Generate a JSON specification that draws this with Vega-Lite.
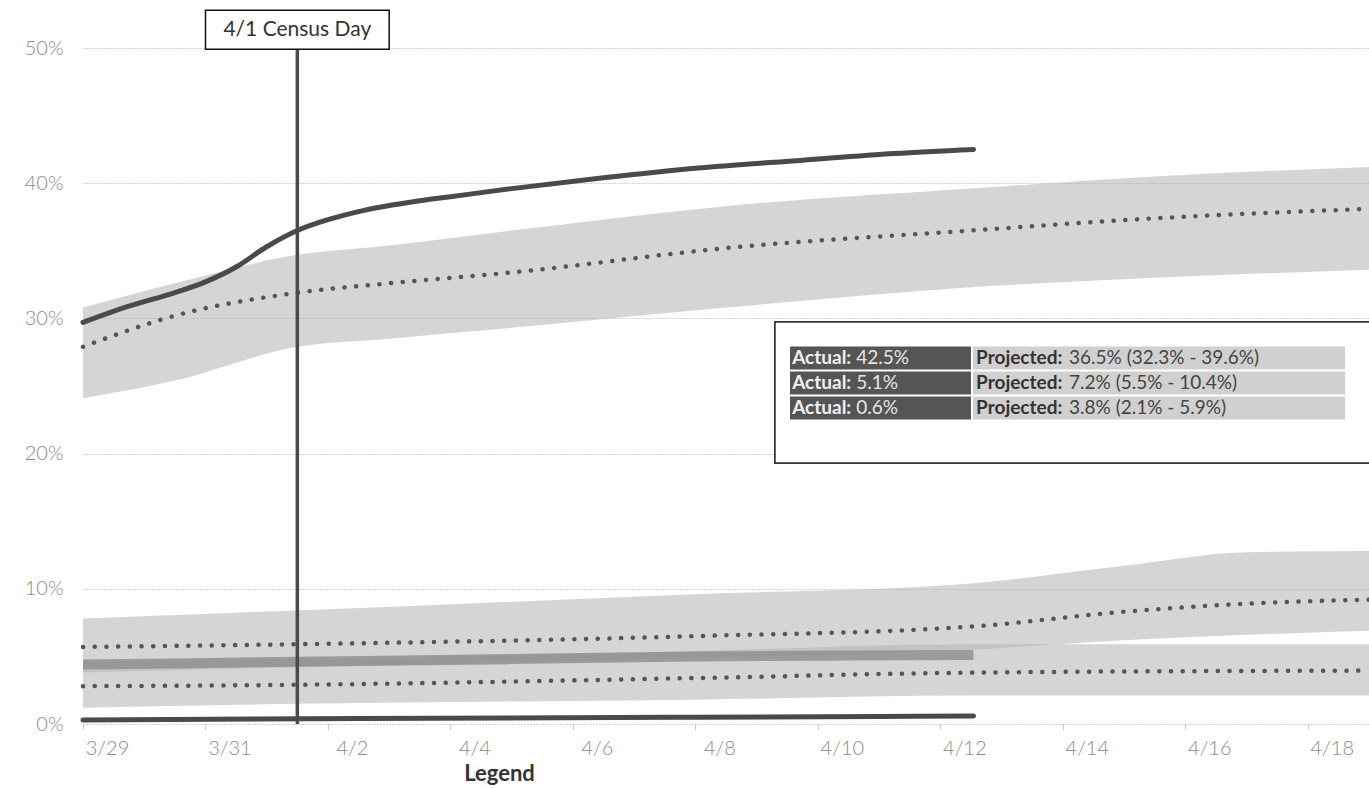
{
  "$schema": "https://vega.github.io/schema/vega-lite/v6.json",
  "width": 1286,
  "height": 676,
  "autosize": "none",
  "padding": {"left": 83, "top": 48, "right": 0, "bottom": 64},
  "background": "white",
  "config": {"view": {"stroke": null}, "font": "Lato"},
  "datasets": {
    "bands": [
      {"t": "2020-03-29T00:00Z", "g": "1", "lo": 24.1, "mid": 27.9, "hi": 30.8},
      {"t": "2020-03-30T12:00Z", "g": "1", "lo": 25.4, "mid": 30.2, "hi": 32.6},
      {"t": "2020-04-01T12:00Z", "g": "1", "lo": 27.9, "mid": 31.9, "hi": 34.7},
      {"t": "2020-04-03T00:00Z", "g": "1", "lo": 28.5, "mid": 32.6, "hi": 35.4},
      {"t": "2020-04-05T00:00Z", "g": "1", "lo": 29.3, "mid": 33.4, "hi": 36.5},
      {"t": "2020-04-08T12:00Z", "g": "1", "lo": 30.8, "mid": 35.2, "hi": 38.3},
      {"t": "2020-04-12T12:00Z", "g": "1", "lo": 32.3, "mid": 36.5, "hi": 39.6},
      {"t": "2020-04-15T12:00Z", "g": "1", "lo": 33.0, "mid": 37.4, "hi": 40.5},
      {"t": "2020-04-19T00:00Z", "g": "1", "lo": 33.6, "mid": 38.1, "hi": 41.2},
      {"t": "2020-03-29T00:00Z", "g": "2", "lo": 3.8, "mid": 5.7, "hi": 7.8},
      {"t": "2020-04-01T12:00Z", "g": "2", "lo": 4.2, "mid": 5.9, "hi": 8.4},
      {"t": "2020-04-08T00:00Z", "g": "2", "lo": 4.9, "mid": 6.5, "hi": 9.6},
      {"t": "2020-04-12T12:00Z", "g": "2", "lo": 5.5, "mid": 7.2, "hi": 10.4},
      {"t": "2020-04-15T00:00Z", "g": "2", "lo": 6.2, "mid": 8.3, "hi": 11.7},
      {"t": "2020-04-17T00:00Z", "g": "2", "lo": 6.6, "mid": 8.9, "hi": 12.7},
      {"t": "2020-04-19T00:00Z", "g": "2", "lo": 6.9, "mid": 9.2, "hi": 12.8},
      {"t": "2020-03-29T00:00Z", "g": "3", "lo": 1.2, "mid": 2.8, "hi": 4.6},
      {"t": "2020-04-01T12:00Z", "g": "3", "lo": 1.5, "mid": 2.9, "hi": 4.8},
      {"t": "2020-04-08T00:00Z", "g": "3", "lo": 1.8, "mid": 3.4, "hi": 5.4},
      {"t": "2020-04-12T12:00Z", "g": "3", "lo": 2.1, "mid": 3.8, "hi": 5.9},
      {"t": "2020-04-19T00:00Z", "g": "3", "lo": 2.1, "mid": 3.95, "hi": 5.9}
    ],
    "actual": [
      {"t": "2020-03-29T00:00Z", "g": "1", "v": 29.7},
      {"t": "2020-03-29T18:00Z", "g": "1", "v": 30.9},
      {"t": "2020-03-30T12:00Z", "g": "1", "v": 31.9},
      {"t": "2020-03-31T00:00Z", "g": "1", "v": 32.7},
      {"t": "2020-03-31T12:00Z", "g": "1", "v": 33.8},
      {"t": "2020-04-01T00:00Z", "g": "1", "v": 35.3},
      {"t": "2020-04-01T12:00Z", "g": "1", "v": 36.5},
      {"t": "2020-04-02T00:00Z", "g": "1", "v": 37.3},
      {"t": "2020-04-02T12:00Z", "g": "1", "v": 37.9},
      {"t": "2020-04-03T12:00Z", "g": "1", "v": 38.7},
      {"t": "2020-04-04T00:00Z", "g": "1", "v": 39.0},
      {"t": "2020-04-05T00:00Z", "g": "1", "v": 39.6},
      {"t": "2020-04-06T12:00Z", "g": "1", "v": 40.4},
      {"t": "2020-04-08T00:00Z", "g": "1", "v": 41.1},
      {"t": "2020-04-09T18:00Z", "g": "1", "v": 41.7},
      {"t": "2020-04-11T06:00Z", "g": "1", "v": 42.2},
      {"t": "2020-04-12T13:00Z", "g": "1", "v": 42.5},
      {"t": "2020-03-29T00:00Z", "g": "2", "v": 4.4},
      {"t": "2020-04-01T12:00Z", "g": "2", "v": 4.6},
      {"t": "2020-04-05T00:00Z", "g": "2", "v": 4.8},
      {"t": "2020-04-08T00:00Z", "g": "2", "v": 5.0},
      {"t": "2020-04-12T13:00Z", "g": "2", "v": 5.1},
      {"t": "2020-03-29T00:00Z", "g": "3", "v": 0.3},
      {"t": "2020-04-02T12:00Z", "g": "3", "v": 0.4},
      {"t": "2020-04-08T00:00Z", "g": "3", "v": 0.5},
      {"t": "2020-04-11T00:00Z", "g": "3", "v": 0.55},
      {"t": "2020-04-12T13:00Z", "g": "3", "v": 0.6}
    ],
    "legend": [
      {"row": 1, "actual": "42.5%", "proj": "36.5% (32.3% - 39.6%)"},
      {"row": 2, "actual": "5.1%", "proj": "7.2% (5.5% -  10.4%)"},
      {"row": 3, "actual": "0.6%", "proj": "3.8% (2.1% - 5.9%)"}
    ],
    "census": [
      {"label": "4/1 Census Day"}
    ]
  },
  "layer": [
    {
      "layer": [
        {
          "data": {"name": "bands"},
          "mark": {"type": "area", "color": "#b3b3b3", "opacity": 0.55, "interpolate": "monotone"},
          "encoding": {
            "x": {
              "field": "t", "type": "temporal",
              "scale": {"type": "utc", "domain": [{"year": 2020, "month": 3, "date": 29, "utc": true}, {"year": 2020, "month": 4, "date": 19, "utc": true}]},
              "axis": {
                "values": [
                  {"year": 2020, "month": 3, "date": 29, "utc": true},
                  {"year": 2020, "month": 3, "date": 31, "utc": true},
                  {"year": 2020, "month": 4, "date": 2, "utc": true},
                  {"year": 2020, "month": 4, "date": 4, "utc": true},
                  {"year": 2020, "month": 4, "date": 6, "utc": true},
                  {"year": 2020, "month": 4, "date": 8, "utc": true},
                  {"year": 2020, "month": 4, "date": 10, "utc": true},
                  {"year": 2020, "month": 4, "date": 12, "utc": true},
                  {"year": 2020, "month": 4, "date": 14, "utc": true},
                  {"year": 2020, "month": 4, "date": 16, "utc": true},
                  {"year": 2020, "month": 4, "date": 18, "utc": true}
                ],
                "labelExpr": "utcFormat(datum.value, '%-m/%-d')",
                "grid": false,
                "domain": false,
                "ticks": true,
                "tickColor": "#999999",
                "tickDash": [1, 1],
                "tickSize": 6,
                "labelColor": "#8a8a8a",
                "labelFontSize": 20,
                "labelFont": "Lato",
                "labelFontWeight": 300,
                "labelOffset": 24,
                "labelPadding": 8,
                "labelFlush": false,
                "labelOverlap": false,
                "title": "Legend",
                "titleFont": "Lato",
                "titleFontSize": 22,
                "titleFontWeight": "bold",
                "titleColor": "#333333",
                "titleX": 416,
                "titleY": 49,
                "titleAnchor": null,
                "titleAlign": "center",
                "titleBaseline": "middle"
              }
            },
            "y": {
              "field": "hi", "type": "quantitative",
              "scale": {"domain": [0, 50]},
              "axis": {
                "values": [0, 10, 20, 30, 40, 50],
                "labelExpr": "datum.value + '%'",
                "grid": true,
                "gridColor": "#a6a6a6",
                "gridDash": [1, 2],
                "gridWidth": 1,
                "domain": false,
                "ticks": false,
                "labelColor": "#8a8a8a",
                "labelFontSize": 20,
                "labelFont": "Lato",
                "labelFontWeight": 300,
                "labelPadding": 20,
                "title": null
              }
            },
            "y2": {"field": "lo"},
            "detail": {"field": "g"}
          }
        },
        {
          "data": {"name": "bands"},
          "mark": {"type": "line", "color": "#555555", "strokeWidth": 4.5, "strokeDash": [0.1, 11.6], "strokeCap": "round", "interpolate": "monotone"},
          "encoding": {
            "x": {"field": "t", "type": "temporal"},
            "y": {"field": "mid", "type": "quantitative"},
            "detail": {"field": "g"}
          }
        },
        {
          "data": {"name": "actual"},
          "transform": [{"filter": "datum.g == '2'"}],
          "mark": {"type": "line", "color": "#8c8c8c", "strokeWidth": 10, "opacity": 0.8, "interpolate": "monotone"},
          "encoding": {
            "x": {"field": "t", "type": "temporal"},
            "y": {"field": "v", "type": "quantitative"}
          }
        },
        {
          "data": {"name": "actual"},
          "transform": [{"filter": "datum.g != '2'"}],
          "mark": {"type": "line", "color": "#4a4a4a", "strokeWidth": 5, "interpolate": "monotone", "strokeCap": "round"},
          "encoding": {
            "x": {"field": "t", "type": "temporal"},
            "y": {"field": "v", "type": "quantitative"},
            "detail": {"field": "g"}
          }
        },
        {
          "data": {"name": "census"},
          "mark": {"type": "rule", "color": "#4a4a4a", "strokeWidth": 3.5},
          "encoding": {
            "x": {"datum": {"year": 2020, "month": 4, "date": 1, "hours": 12, "utc": true}, "type": "temporal"},
            "y": {"datum": 0},
            "y2": {"datum": 50}
          }
        },
        {
          "data": {"name": "census"},
          "mark": {"type": "rect", "fill": "white", "stroke": "#111111", "strokeWidth": 1.5},
          "encoding": {
            "x": {"datum": {"year": 2020, "month": 3, "date": 31, "utc": true}, "type": "temporal"},
            "x2": {"datum": {"year": 2020, "month": 4, "date": 3, "utc": true}},
            "y": {"datum": 52.8},
            "y2": {"datum": 49.9}
          }
        },
        {
          "data": {"name": "census"},
          "mark": {"type": "text", "fontSize": 21, "font": "Lato", "color": "#333333", "align": "center", "baseline": "middle"},
          "encoding": {
            "x": {"datum": {"year": 2020, "month": 4, "date": 1, "hours": 12, "utc": true}, "type": "temporal"},
            "y": {"datum": 51.35},
            "text": {"field": "label"}
          }
        }
      ]
    },
    {
      "data": {"name": "legend"},
      "encoding": {
        "y": {"field": "row", "type": "quantitative", "scale": {"domain": [-11.4, 15.64], "reverse": true, "zero": false, "nice": false}, "axis": null}
      },
      "layer": [
        {
          "mark": {"type": "rect", "fill": "white", "stroke": "#333333", "strokeWidth": 1.5},
          "encoding": {
            "x": {"datum": {"year": 2020, "month": 4, "date": 9, "hours": 7, "minutes": 12, "utc": true}, "type": "temporal"},
            "x2": {"datum": {"year": 2020, "month": 4, "date": 20, "utc": true}},
            "y": {"datum": -0.44},
            "y2": {"datum": 5.2}
          }
        },
        {
          "mark": {"type": "rule", "color": "#555555", "strokeWidth": 23, "strokeCap": "butt"},
          "encoding": {
            "x": {"datum": {"year": 2020, "month": 4, "date": 9, "hours": 13, "minutes": 5, "utc": true}, "type": "temporal"},
            "x2": {"datum": {"year": 2020, "month": 4, "date": 12, "hours": 12, "utc": true}}
          }
        },
        {
          "mark": {"type": "rule", "color": "#d0d0d0", "strokeWidth": 23, "strokeCap": "butt"},
          "encoding": {
            "x": {"datum": {"year": 2020, "month": 4, "date": 12, "hours": 12, "minutes": 45, "utc": true}, "type": "temporal"},
            "x2": {"datum": {"year": 2020, "month": 4, "date": 18, "hours": 14, "minutes": 38, "utc": true}}
          }
        },
        {
          "mark": {"type": "text", "text": "Actual:", "fontSize": 19, "font": "Lato", "fontWeight": "bold", "color": "#f0f0f0", "align": "left", "baseline": "middle"},
          "encoding": {
            "x": {"datum": {"year": 2020, "month": 4, "date": 9, "hours": 13, "minutes": 55, "utc": true}, "type": "temporal"}
          }
        },
        {
          "mark": {"type": "text", "fontSize": 19, "font": "Lato", "color": "#e6e6e6", "align": "left", "baseline": "middle", "dx": 64},
          "encoding": {
            "x": {"datum": {"year": 2020, "month": 4, "date": 9, "hours": 13, "minutes": 55, "utc": true}, "type": "temporal"},
            "text": {"field": "actual"}
          }
        },
        {
          "mark": {"type": "text", "text": "Projected:", "fontSize": 19, "font": "Lato", "fontWeight": "bold", "color": "#333333", "align": "left", "baseline": "middle"},
          "encoding": {
            "x": {"datum": {"year": 2020, "month": 4, "date": 12, "hours": 14, "utc": true}, "type": "temporal"}
          }
        },
        {
          "mark": {"type": "text", "fontSize": 19, "font": "Lato", "color": "#444444", "align": "left", "baseline": "middle", "dx": 93},
          "encoding": {
            "x": {"datum": {"year": 2020, "month": 4, "date": 12, "hours": 14, "utc": true}, "type": "temporal"},
            "text": {"field": "proj"}
          }
        }
      ]
    }
  ],
  "resolve": {"scale": {"y": "independent"}}
}
